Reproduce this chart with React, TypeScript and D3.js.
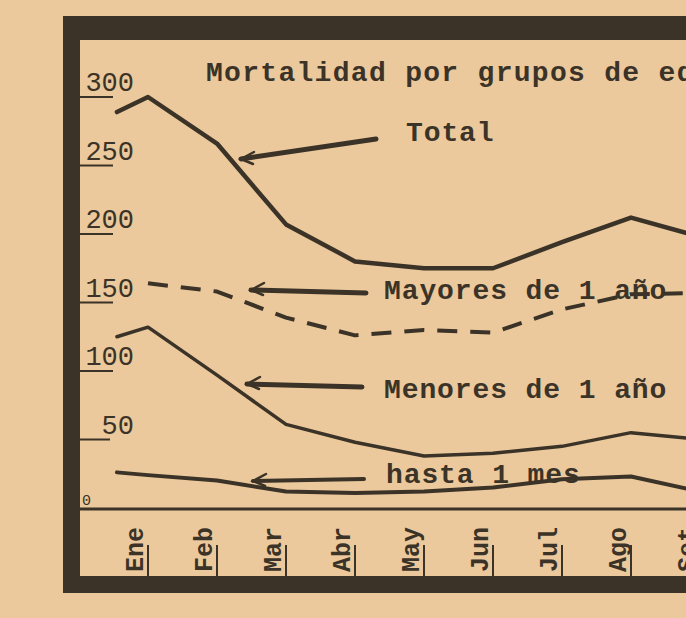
import React from 'react';
import { scaleLinear, line } from 'd3';

// months on the x axis; every line starts in the previous December
const months = ['Ene', 'Feb', 'Mar', 'Abr', 'May', 'Jun', 'Jul', 'Ago', 'Set'];
const priorOffset = -0.45;

// deaths per month, first value is the previous December
const total = [289, 300, 266, 207, 180, 175, 175, 194, 212, 198];
const mayores = [null, 164, 158, 139, 126, 130, 128, 145, 156, 157];
const menores = [125, 132, 97, 61, 48, 38, 40, 45, 55, 50];
const hastaMes = [26, 24, 20, 12, 11, 12, 15, 21, 23, 12];

const yTicks = [0, 50, 100, 150, 200, 250, 300];
const title = 'Mortalidad por grupos de edad';

const W = 686;
const H = 618;
const ink = '#3b3327';
const paper = '#ebc99c';
const typeFont = '"Liberation Mono", "DejaVu Sans Mono", monospace';

const x = scaleLinear().domain([0, 8]).range([148, 700]);
const y = scaleLinear().domain([0, 300]).range([508, 97]);

const pointX = (i: number) => (i === 0 ? x(priorOffset) : x(i - 1));

function seriesPath(values: (number | null)[]) {
  const pts = values
    .map((v, i) => ({ i, v }))
    .filter(d => d.v !== null) as { i: number; v: number }[];
  return line<{ i: number; v: number }>()
    .x(d => pointX(d.i))
    .y(d => y(d.v))(pts) || '';
}

// annotation arrows: tail on the right, head on the left
function Arrow({ x1, y1, x2, y2, w = 4 }: { x1: number; y1: number; x2: number; y2: number; w?: number }) {
  return (
    <g stroke={ink} fill="none" strokeLinecap="round">
      <line x1={x1} y1={y1} x2={x2} y2={y2} strokeWidth={w} />
      <path d={`M${x2 + 13},${y2 - 7} L${x2},${y2} L${x2 + 12},${y2 + 5}`} strokeWidth={2.5} />
    </g>
  );
}

export default function App() {
  const labelStyle = { fontFamily: typeFont, fontWeight: 700, fontSize: 28, letterSpacing: 0.9 };
  return (
    <svg width={W} height={H} style={{ position: 'absolute', left: 0, top: 0 }}>
      <defs>
        <clipPath id="plate">
          <rect x={0} y={0} width={W} height={H} />
        </clipPath>
      </defs>
      <rect width={W} height={H} fill={paper} />

      {/* frame */}
      <rect x={63} y={16} width={W - 63} height={24} fill={ink} />
      <rect x={63} y={16} width={17} height={577} fill={ink} />
      <rect x={63} y={576} width={W - 63} height={17} fill={ink} />
      <line x1={80} x2={W} y1={509} y2={509} stroke={ink} strokeWidth={3} />

      {/* y axis ticks */}
      {yTicks.map(t =>
        t === 0 ? (
          <text key={t} x={82} y={505} fontFamily={typeFont} fontSize={15} fill={ink}>
            {t}
          </text>
        ) : (
          <g key={t}>
            <line x1={78} x2={t === 50 ? 110 : 113} y1={y(t)} y2={y(t)} stroke={ink} strokeWidth={2} />
            <text x={134} y={y(t) - 6} textAnchor="end" fontFamily={typeFont} fontSize={27} fill={ink}>
              {t}
            </text>
          </g>
        )
      )}

      {/* month ticks and labels */}
      <g clipPath="url(#plate)">
        {months.map((m, i) => (
          <g key={m}>
            <line x1={x(i)} x2={x(i)} y1={545} y2={577} stroke={ink} strokeWidth={2} />
            <text
              transform={`translate(${x(i) - 5},${572}) rotate(-90)`}
              fontFamily={typeFont}
              fontWeight={700}
              fontSize={25}
              fill={ink}
            >
              {m}
            </text>
          </g>
        ))}
      </g>

      {/* title */}
      <text x={206} y={81} fill={ink} clipPath="url(#plate)" {...labelStyle} letterSpacing={1.3}>
        {title}
      </text>

      {/* series */}
      <g fill="none" stroke={ink} strokeLinejoin="round" strokeLinecap="round">
        <path d={seriesPath(total)} strokeWidth={4.5} />
        <path d={seriesPath(mayores)} strokeWidth={4} strokeDasharray="20 13" strokeLinecap="butt" />
        <path d={seriesPath(menores)} strokeWidth={3.5} />
        <path d={seriesPath(hastaMes)} strokeWidth={4} />
      </g>

      {/* labels and arrows */}
      <text x={406} y={141} fill={ink} {...labelStyle}>Total</text>
      <Arrow x1={376} y1={139} x2={241} y2={159} w={5} />

      <text x={384} y={299} fill={ink} {...labelStyle}>Mayores de 1 año</text>
      <Arrow x1={366} y1={293} x2={251} y2={290} w={5} />

      <text x={384} y={398} fill={ink} {...labelStyle}>Menores de 1 año</text>
      <Arrow x1={362} y1={387} x2={247} y2={384} w={5} />

      <text x={386} y={483} fill={ink} {...labelStyle}>hasta 1 mes</text>
      <Arrow x1={364} y1={479} x2={253} y2={481} w={4} />
    </svg>
  );
}
